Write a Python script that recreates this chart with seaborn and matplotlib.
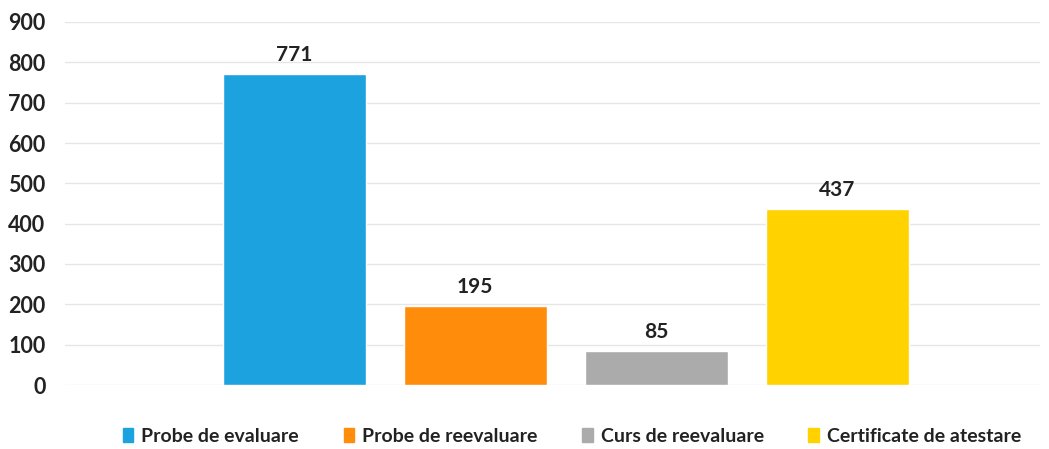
import matplotlib
matplotlib.use("Agg")
import matplotlib.pyplot as plt
import seaborn as sns
import pandas as pd

series = ["Probe de evaluare", "Probe de reevaluare", "Curs de reevaluare", "Certificate de atestare"]
values = [771, 195, 85, 437]
colors = ["#1DA2E0", "#FF8C0A", "#ABABAB", "#FFD200"]
yticks = [0, 100, 200, 300, 400, 500, 600, 700, 800, 900]

sns.set_style("white")
plt.rcParams["font.family"] = ["Lato", "DejaVu Sans"]

df = pd.DataFrame({"serie": series, "valoare": values})

fig = plt.figure(figsize=(10.49, 4.49), dpi=100)
ax = fig.add_axes([65 / 1049, 64 / 449, 975 / 1049, 363 / 449])

sns.barplot(data=df, x="serie", y="valoare", hue="serie", palette=colors,
            width=0.79, saturation=1, legend=False, ax=ax)

ax.set_ylim(0, 900)
ax.set_xlim(-1.265, 4.12)
ax.set_yticks(yticks)
ax.set_yticklabels([str(t) for t in yticks], fontsize=15.5, fontweight="bold", color="#222222")
ax.set_xticks([])
ax.set_xlabel("")
ax.set_ylabel("")
ax.tick_params(axis="y", length=0, pad=14)
ax.grid(axis="y", color="#E6E6E6", linewidth=1)
ax.set_axisbelow(True)
for s in ax.spines.values():
    s.set_visible(False)

for i, v in enumerate(values):
    ax.text(i, v + 22, str(v), ha="center", va="bottom", fontsize=15,
            fontweight="bold", color="#222222")

handles = [plt.Rectangle((0, 0), 1, 1, color=c) for c in colors]
leg = fig.legend(handles, series, loc="center", bbox_to_anchor=(572 / 1049, 13 / 449),
                 ncol=4, frameon=False, handlelength=0.55, handleheight=0.7,
                 handletextpad=0.4, columnspacing=2.3,
                 prop={"size": 14, "weight": "bold"})
for t in leg.get_texts():
    t.set_color("#222222")

fig.savefig("out.png", dpi=100)
